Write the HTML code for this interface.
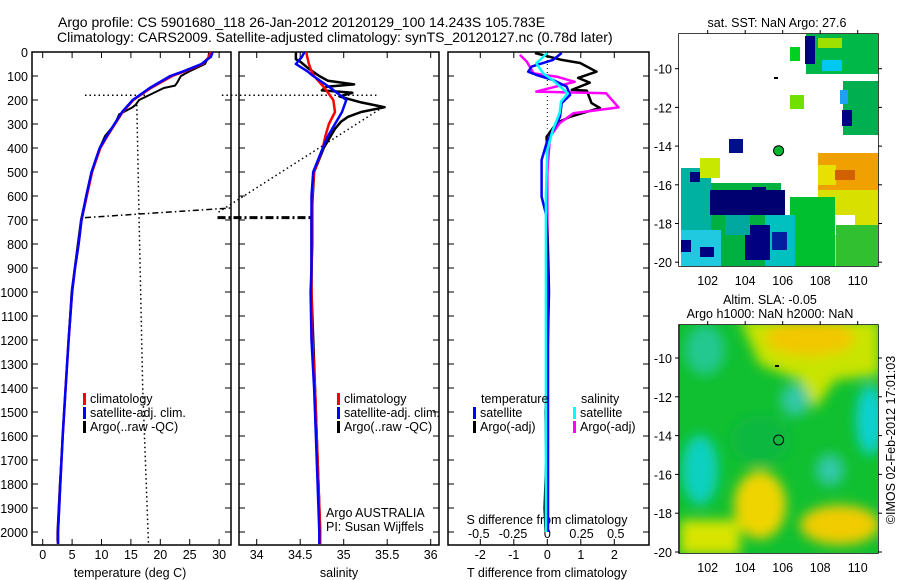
<!DOCTYPE html>
<html><head><meta charset="utf-8"><style>
body{margin:0;background:#fff;}
svg{display:block;font-family:"Liberation Sans",sans-serif;}
text{font-size:12.5px;fill:#000;}
</style></head><body>
<svg id="fig" width="900" height="580" viewBox="0 0 900 580" xmlns="http://www.w3.org/2000/svg">
<defs>
<filter id="blur" x="-20%" y="-20%" width="140%" height="140%"><feGaussianBlur stdDeviation="6"/></filter>
<clipPath id="m2clip"><rect x="680" y="325" width="198" height="228"/></clipPath>
</defs>
<text x="58" y="27" style="font-size:14px">Argo profile: CS 5901680_118 26-Jan-2012 20120129_100 14.243S 105.783E</text>
<text x="57" y="42" style="font-size:14px">Climatology: CARS2009. Satellite-adjusted climatology: synTS_20120127.nc (0.78d later)</text>
<g id="g"></g>
<!-- map 1 -->
<g>
<rect x="679" y="34" width="199" height="232" fill="#fff"/>
<rect x="806" y="34" width="72" height="40" fill="#00b848"/>
<rect x="805" y="36" width="10" height="28" fill="#000080"/>
<rect x="818" y="38" width="24" height="10" fill="#9ee000"/>
<rect x="790" y="47" width="10" height="14" fill="#00d020"/>
<rect x="822" y="60" width="20" height="11" fill="#00c8f0"/>
<rect x="843" y="81" width="35" height="54" fill="#00b050"/>
<rect x="842" y="110" width="10" height="16" fill="#000080"/>
<rect x="840" y="90" width="8" height="14" fill="#20a0f0"/>
<rect x="790" y="95" width="14" height="14" fill="#70e000"/>
<rect x="729" y="139" width="14" height="14" fill="#00108a"/>
<rect x="818" y="153" width="60" height="45" fill="#f0a000"/>
<rect x="818" y="165" width="18" height="20" fill="#e8e000"/>
<rect x="835" y="170" width="20" height="10" fill="#d06000"/>
<rect x="818" y="190" width="60" height="76" fill="#d8e000"/>
<rect x="830" y="215" width="25" height="20" fill="#ffffff"/>
<rect x="836" y="225" width="42" height="41" fill="#30c030"/>
<rect x="681" y="168" width="30" height="98" fill="#00b0a0"/>
<rect x="700" y="158" width="20" height="20" fill="#c8e800"/>
<rect x="690" y="172" width="10" height="10" fill="#000080"/>
<rect x="711" y="183" width="70" height="83" fill="#00b040"/>
<rect x="710" y="190" width="75" height="25" fill="#000070"/>
<rect x="752" y="187" width="14" height="14" fill="#000070"/>
<rect x="790" y="197" width="45" height="69" fill="#00c030"/>
<rect x="765" y="215" width="30" height="51" fill="#00c0c0"/>
<rect x="745" y="225" width="25" height="35" fill="#000080"/>
<rect x="681" y="230" width="40" height="36" fill="#20c8e0"/>
<rect x="681" y="240" width="10" height="12" fill="#000080"/>
<rect x="700" y="247" width="14" height="10" fill="#000080"/>
<rect x="772" y="232" width="15" height="18" fill="#0020a0"/>
<rect x="725" y="215" width="25" height="20" fill="#00a8a0"/>
<circle cx="778.6" cy="150.7" r="5" fill="#00b830" stroke="#000" stroke-width="1"/>
<rect x="774" y="77" width="4" height="2" fill="#000"/>
</g>
<!-- map 2 -->
<g clip-path="url(#m2clip)">
<rect x="680" y="325" width="198" height="228" fill="#10c030"/>
<g filter="url(#blur)">
<path d="M740,320 L880,320 L880,375 L835,380 L815,410 L800,380 L760,365 Z" fill="#c8e400"/>
<ellipse cx="810" cy="338" rx="45" ry="18" fill="#f2c800"/>
<ellipse cx="705" cy="350" rx="20" ry="25" fill="#20c890"/>
<ellipse cx="700" cy="470" rx="18" ry="35" fill="#10d0c0"/>
<ellipse cx="760" cy="505" rx="26" ry="34" fill="#f0d400"/>
<ellipse cx="840" cy="525" rx="40" ry="20" fill="#f0cc00"/>
<rect x="680" y="520" width="60" height="35" fill="#d8e400"/>
<ellipse cx="870" cy="420" rx="14" ry="35" fill="#10d0d0"/>
<ellipse cx="830" cy="470" rx="14" ry="16" fill="#30c8a8"/>
<ellipse cx="795" cy="400" rx="14" ry="16" fill="#30c8a8"/>
<ellipse cx="760" cy="440" rx="30" ry="25" fill="#08b840"/>
</g>
<circle cx="778.6" cy="440" r="5" fill="none" stroke="#000" stroke-width="1"/>
<rect x="775" y="365" width="4" height="2" fill="#000"/>
</g>
<text x="777" y="27" text-anchor="middle">sat. SST: NaN Argo: 27.6</text>
<text x="770" y="304" text-anchor="middle">Altim. SLA: -0.05</text>
<text x="770" y="318" text-anchor="middle">Argo h1000: NaN h2000: NaN</text>
<text transform="translate(895,440) rotate(-90)" text-anchor="middle">©IMOS 02-Feb-2012 17:01:03</text>
<text x="326" y="517">Argo AUSTRALIA</text>
<text x="326" y="531">PI: Susan Wijffels</text>
</svg>
<script>
const depthTicks = [0,100,200,300,400,500,600,700,800,900,1000,1100,1200,1300,1400,1500,1600,1700,1800,1900,2000];
const tempTicks = [0,5,10,15,20,25,30];
const salTicks = [34,34.5,35,35.5,36];
const dTTicks = [-2,-1,0,1,2];
const dSTicks = [-0.5,-0.25,0,0.25,0.5];
const lonTicks = [102,104,106,108,110];
const latTicks = [-10,-12,-14,-16,-18,-20];

const climDepth = [0,20,50,80,100,150,200,250,300,350,400,500,600,700,800,900,1000,1200,1400,1600,1800,2000,2050];
const tempClim  = [28.5,28.3,27.2,24.2,22.0,18.4,15.4,13.6,12.3,11.0,9.8,8.4,7.5,6.6,6.1,5.5,5.0,4.4,3.9,3.4,3.0,2.6,2.6];
const tempSat   = [28.9,28.6,27.0,24.0,21.7,18.2,15.3,13.5,12.2,10.9,9.7,8.3,7.4,6.6,6.1,5.5,5.0,4.4,3.9,3.4,3.0,2.6,2.6];
const argoTDepth= [0,20,50,80,100,130,140,150,200,220,230,260,300,350,400,500,700,1000,1400,1800,2000,2040];
const tempArgo  = [28.3,28.2,27.6,25.0,23.5,22.8,22.5,20.6,16.4,15.8,15.3,13.0,12.3,10.6,9.7,8.3,6.5,4.9,3.9,2.9,2.5,2.5];

const salClim   = [34.57,34.58,34.6,34.63,34.66,34.78,34.88,34.9,34.83,34.79,34.76,34.66,34.64,34.64,34.64,34.63,34.63,34.64,34.67,34.69,34.71,34.73,34.73];
const salSat    = [34.55,34.52,34.45,34.58,34.65,34.85,35.03,34.98,34.9,34.82,34.76,34.65,34.63,34.63,34.63,34.63,34.62,34.63,34.66,34.68,34.7,34.72,34.72];
const argoSDepth= [0,30,40,70,100,120,135,145,160,170,185,210,230,250,270,290,320,400,500,690,1000,1400,2000];
const salArgo   = [34.45,34.45,34.5,34.6,34.72,34.82,35.12,34.8,34.75,35.1,34.95,35.2,35.47,35.2,35.05,34.97,34.9,34.77,34.66,34.63,34.63,34.67,34.73];

const dTDepth   = [4,33,46,82,108,128,158,161,213,233,270,296,353,450,700,1000,1300,1500,1700,1900,2000];
const dTArgo    = [-0.37,0.43,0.98,1.47,0.92,1.27,0.73,1.18,1.32,1.57,0.68,0.28,-0.02,0.0,0.0,0.05,0.0,-0.05,-0.03,-0.08,-0.05];
const dTSatDepth= [4,33,61,82,96,117,144,179,213,270,311,379,450,603,686,1000,1500,2000];
const dTSat     = [0.43,0.17,-0.47,-0.57,-0.32,0.18,0.58,0.68,0.43,0.38,0.23,-0.02,-0.17,-0.17,-0.02,0.02,0.02,0.02];
const dSDepth   = [12,40,89,103,124,165,172,231,255,297,353,500,1000,1500,2000];
const dSArgo    = [-0.2,-0.15,-0.1,0.07,0.2,-0.08,0.43,0.52,0.19,0.09,0.02,0.0,0.0,0.0,0.0];
const dSSatDepth= [4,47,89,117,172,207,254,325,408,603,1000,2000];
const dSSat     = [0.0,-0.08,-0.03,0.04,0.15,0.1,0.09,0.04,0.0,-0.01,-0.01,-0.01];

const yD = d => 52 + d*0.24;
const xT = t => 42.7 + t*5.88;
const xS = s => 256.7 + (s-34)*87;
const xdT = t => 547.3 + t*33.5;
const xdS = s => 547.3 + s*137;
const m1x = lon => 707.7 + (lon-102)*18.75;
const m1y = lat => 68.7 + (-10-lat)*19.35;
const m2y = lat => 358 + (-10-lat)*19.4;

const NS = 'http://www.w3.org/2000/svg';
const G = document.getElementById('g');
function mk(tag, attrs, parent){ const e=document.createElementNS(NS,tag); for(const k in attrs) e.setAttribute(k,attrs[k]); (parent||G).appendChild(e); return e; }
function line(xs, ys, fx, color, w, dash){
  const pts = xs.map((v,i)=>fx(v).toFixed(1)+','+yD(ys[i]).toFixed(1)).join(' ');
  const a = {points:pts, fill:'none', stroke:color, 'stroke-width':w, 'stroke-linejoin':'round'};
  if(dash) a['stroke-dasharray']=dash;
  return mk('polyline', a);
}
function txt(x,y,s,anchor){ const t=mk('text',{x:x,y:y,'text-anchor':anchor||'start'}); t.textContent=s; return t; }

const panels = [[32,231],[239,439],[448,649]];
panels.forEach((p,i)=>{
  const r = mk('rect',{x:p[0],y:52,width:p[1]-p[0],height:493,fill:'none',stroke:'#000','stroke-width':1.5});
  
  
  depthTicks.forEach(d=>{
    mk('line',{x1:p[0],x2:p[0]+6,y1:yD(d),y2:yD(d),stroke:'#000'});
    mk('line',{x1:p[1]-6,x2:p[1],y1:yD(d),y2:yD(d),stroke:'#000'});
  });
});
depthTicks.forEach(d=>{
  const t = txt(28, yD(d)+5, String(d), 'end');
  
  
});
function xticks(vals, f, labY){
  vals.forEach(v=>{
    mk('line',{x1:f(v),x2:f(v),y1:545,y2:539,stroke:'#000'});
    mk('line',{x1:f(v),x2:f(v),y1:52,y2:58,stroke:'#000'});
    if(labY){ const t=txt(f(v), labY, String(v), 'middle');
      
       }
  });
}
xticks(tempTicks, xT, 559);
xticks(salTicks, xS, 559);
xticks(dTTicks, xdT, 559);
dSTicks.forEach(v=>{ const t=txt(xdS(v), 538, String(v), 'middle');
  
   });
let t;
t = txt(130,577,'temperature (deg C)','middle');


t = txt(339,577,'salinity','middle');


t = txt(547,577,'T difference from climatology','middle');


t = txt(547,524,'S difference from climatology','middle');



line([7.2,17.7],[180,180],xT,'#000',1.5,'1.5,3');
line([16,16.4,17,18],[220,700,1400,2050],xT,'#000',1.5,'1.5,3');
line([7.2,32],[690,650],xT,'#000',1.5,'6,3,1.5,3');
line([33.6,35.4],[180,180],xS,'#000',1.5,'1.5,3');
line([35.45,33.55],[230,670],xS,'#000',1.5,'1.5,3');
line([33.55,34.63],[690,690],xS,'#000',3,'8,3,2,3');
line([0,0],[0,320],xdT,'#000',1,'1,3');

let s;
s = line(tempArgo, argoTDepth, xT, '#000', 2);


s = line(tempClim, climDepth, xT, '#f00', 2.5);


s = line(tempSat, climDepth, xT, '#00f', 2.5);


s = line(salArgo, argoSDepth, xS, '#000', 2.5);


s = line(salClim, climDepth, xS, '#f00', 2.5);


s = line(salSat, climDepth, xS, '#00f', 2.5);


s = line(dTArgo, dTDepth, xdT, '#000', 2.5);


s = line(dSArgo, dSDepth, xdS, '#f0f', 2.5);


s = line(dTSat, dTSatDepth, xdT, '#00f', 2.5);


s = line(dSSat, dSSatDepth, xdS, '#0ff', 2.5);



function legend(x, y, color, label){
  mk('rect',{x:x,y:y-10,width:3,height:12,fill:color});
  const tt = txt(x+7, y, label);
  
  
}
legend(83,403,'#f00','climatology');
legend(83,417,'#00f','satellite-adj. clim.');
legend(83,431,'#000','Argo(..raw -QC)');
legend(337,403,'#f00','climatology');
legend(337,417,'#00f','satellite-adj. clim.');
legend(337,431,'#000','Argo(..raw -QC)');
t = txt(481,403,'temperature');


t = txt(581,403,'salinity');


legend(473,417,'#00f','satellite');
legend(473,431,'#000','Argo(-adj)');
legend(573,417,'#0ff','satellite');
legend(573,431,'#f0f','Argo(-adj)');

[[34,266,m1y,285],[325,553,m2y,572]].forEach(m=>{
  const fr = mk('rect',{x:679,y:m[0],width:199,height:m[1]-m[0],fill:'none',stroke:'#000','stroke-width':1.5});
  
  
  lonTicks.forEach(v=>{
    mk('line',{x1:m1x(v),x2:m1x(v),y1:m[1],y2:m[1]-4,stroke:'#000'});
    mk('line',{x1:m1x(v),x2:m1x(v),y1:m[0],y2:m[0]-4,stroke:'#000'});
    const l = txt(m1x(v), m[3], String(v), 'middle');
    
    
  });
  latTicks.forEach(v=>{
    mk('line',{x1:679,x2:675,y1:m[2](v),y2:m[2](v),stroke:'#000'});
    mk('line',{x1:878,x2:882,y1:m[2](v),y2:m[2](v),stroke:'#000'});
    const l = txt(672, m[2](v)+5, String(v), 'end');
    
    
  });
});
</script>
</body></html>
